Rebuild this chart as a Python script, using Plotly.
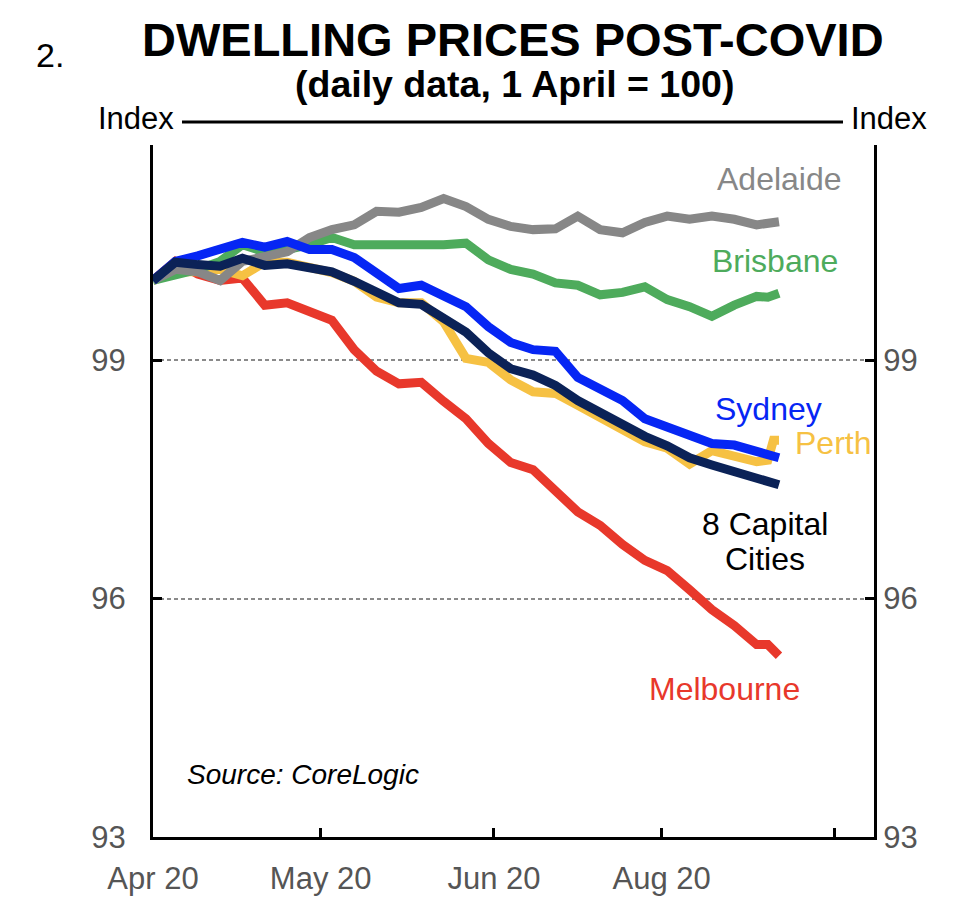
import pandas as pd
import plotly.graph_objects as go

# ---- data (index, 1 April = 100), sampled days since 1 April 2020 ----
days = [0, 4, 8, 12, 16, 20, 24, 28, 32, 36, 40, 44, 48, 52, 56, 60, 64, 68, 72,
        76, 80, 84, 88, 92, 96, 100, 104, 108, 110, 111, 112]

adelaide = [100.00, 100.14, 100.11, 100.00, 100.24, 100.31, 100.36, 100.54, 100.64, 100.70,
            100.87, 100.86, 100.92, 101.03, 100.93, 100.77, 100.68, 100.64, 100.65, 100.81,
            100.64, 100.60, 100.73, 100.81, 100.77, 100.81, 100.77, 100.70, 100.73, 100.73, 100.74]
brisbane = [100.00, 100.06, 100.14, 100.24, 100.45, 100.36, 100.39, 100.45, 100.54, 100.45,
            100.45, 100.44, 100.44, 100.45, 100.47, 100.26, 100.14, 100.08, 99.97, 99.94,
            99.82, 99.85, 99.92, 99.76, 99.67, 99.55, 99.69, 99.80, 99.79, 99.81, 99.84]
sydney = [100.00, 100.24, 100.31, 100.39, 100.48, 100.42, 100.49, 100.39, 100.39, 100.29,
          100.09, 99.90, 99.94, 99.82, 99.67, 99.42, 99.22, 99.13, 99.11, 98.78,
          98.64, 98.49, 98.26, 98.16, 98.08, 97.95, 97.93, 97.85, 97.82, 97.80, 97.77]
perth = [100.00, 100.11, 100.11, 100.14, 100.06, 100.23, 100.23, 100.16, 100.10, 99.99,
         99.79, 99.72, 99.72, 99.48, 99.02, 98.97, 98.75, 98.60, 98.58, 98.43,
         98.28, 98.11, 97.97, 97.89, 97.69, 97.86, 97.80, 97.72, 97.74, 97.99, 97.99]
capitals = [100.00, 100.23, 100.20, 100.18, 100.28, 100.19, 100.21, 100.15, 100.11, 99.99,
            99.84, 99.72, 99.70, 99.53, 99.35, 99.09, 98.89, 98.81, 98.68, 98.49,
            98.34, 98.16, 98.04, 97.92, 97.77, 97.68, 97.60, 97.50, 97.46, 97.45, 97.43]
melbourne = [100.00, 100.24, 100.08, 100.00, 100.03, 99.69, 99.72, 99.61, 99.50, 99.13,
             98.86, 98.70, 98.72, 98.48, 98.26, 97.95, 97.71, 97.62, 97.35, 97.09,
             96.92, 96.68, 96.48, 96.35, 96.11, 95.86, 95.66, 95.42, 95.42, 95.36, 95.28]

tick_dates = ["2020-04-01", "2020-05-01", "2020-06-01", "2020-07-01", "2020-08-01"]
tick_labels = ["Apr 20", "May 20", "Jun 20", "Aug 20", ""]
y_ticks = [93, 96, 99]

start = pd.Timestamp("2020-04-01")
dates = [start + pd.Timedelta(days=d) for d in days]

FONT = "Liberation Sans, Arial, Helvetica, sans-serif"

series = [
    ("Melbourne", melbourne, "#e8382b"),
    ("Perth", perth, "#f6c143"),
    ("Brisbane", brisbane, "#4eab5c"),
    ("Adelaide", adelaide, "#878787"),
    ("Sydney", sydney, "#0626f4"),
    ("8 Capital Cities", capitals, "#0b2257"),
]

fig = go.Figure()
for name, vals, col in series:
    fig.add_trace(go.Scatter(x=dates, y=vals, mode="lines", name=name,
                             line=dict(color=col, width=9, shape="linear"),
                             showlegend=False))
# dummy trace to activate right axis
fig.add_trace(go.Scatter(x=[dates[0]], y=[100], yaxis="y2", mode="lines",
                         line=dict(width=0), showlegend=False, hoverinfo="skip"))

y_top = 93 + (837 - 145) / 79.5
TICKFONT = dict(size=31, color="#555555", family=FONT)

# page body has an 8px margin, so the figure is 8px smaller and offset
fig.update_layout(
    width=952, height=908,
    margin=dict(l=145, r=86, t=137, b=79),
    paper_bgcolor="white", plot_bgcolor="white",
    font=dict(family=FONT, color="#555555"),
    xaxis=dict(type="date", range=["2020-04-01", "2020-08-08"],
               tickvals=tick_dates, ticktext=tick_labels,
               ticks="inside", ticklen=9, tickwidth=2.5, tickcolor="black",
               showline=True, linewidth=3, linecolor="black",
               showgrid=False, zeroline=False, tickfont=TICKFONT,
               ticklabelstandoff=12),
    yaxis=dict(range=[93, y_top], tickvals=y_ticks, ticktext=[str(v) for v in y_ticks],
               ticks="inside", ticklen=9, tickwidth=2.5, tickcolor="black",
               showline=True, linewidth=3, linecolor="black",
               showgrid=True, gridcolor="#8a8a8a", gridwidth=1.5, griddash="4px,3px",
               zeroline=False, ticklabelstandoff=18, tickfont=TICKFONT),
    yaxis2=dict(range=[93, y_top], tickvals=y_ticks, ticktext=[str(v) for v in y_ticks],
                overlaying="y", side="right",
                ticks="inside", ticklen=9, tickwidth=2.5, tickcolor="black",
                showline=True, linewidth=3, linecolor="black",
                showgrid=False, zeroline=False, tickfont=TICKFONT),
)

def px(xp):
    return (xp - 153) / 721

def py(yp):
    return (837 - yp) / 692

# top line
fig.add_shape(type="line", xref="paper", yref="paper",
              x0=px(182), x1=px(843), y0=py(122), y1=py(122),
              line=dict(color="black", width=3))

def ann(text, xp, yp, size, color, bold=False, italic=False, xanchor="center"):
    t = text
    if bold:
        t = "<b>" + t + "</b>"
    if italic:
        t = "<i>" + t + "</i>"
    fig.add_annotation(text=t, xref="paper", yref="paper", x=px(xp), y=py(yp),
                       xanchor=xanchor, yanchor="middle", showarrow=False,
                       font=dict(size=size, color=color, family=FONT))

ann("DWELLING PRICES POST-COVID", 513, 39, 47, "black", bold=True)
ann("(daily data, 1 April = 100)", 514, 84, 37.5, "black", bold=True)
ann("2.", 50, 55, 34, "black")
ann("Index", 136, 118, 31, "black")
ann("Index", 889, 118, 31, "black")

ann("Adelaide", 779, 179, 32, "#878787")
ann("Brisbane", 775, 261, 32, "#4eab5c")
ann("Sydney", 768, 409, 32, "#0626f4")
ann("Perth", 833, 443, 32, "#f6c143")
ann("8 Capital", 765, 524, 32, "black")
ann("Cities", 765, 559, 32, "black")
ann("Melbourne", 724, 689, 32, "#e8382b")
ann("Source: CoreLogic", 185, 774, 28, "black", italic=True, xanchor="left")

fig.write_html("out.html")
